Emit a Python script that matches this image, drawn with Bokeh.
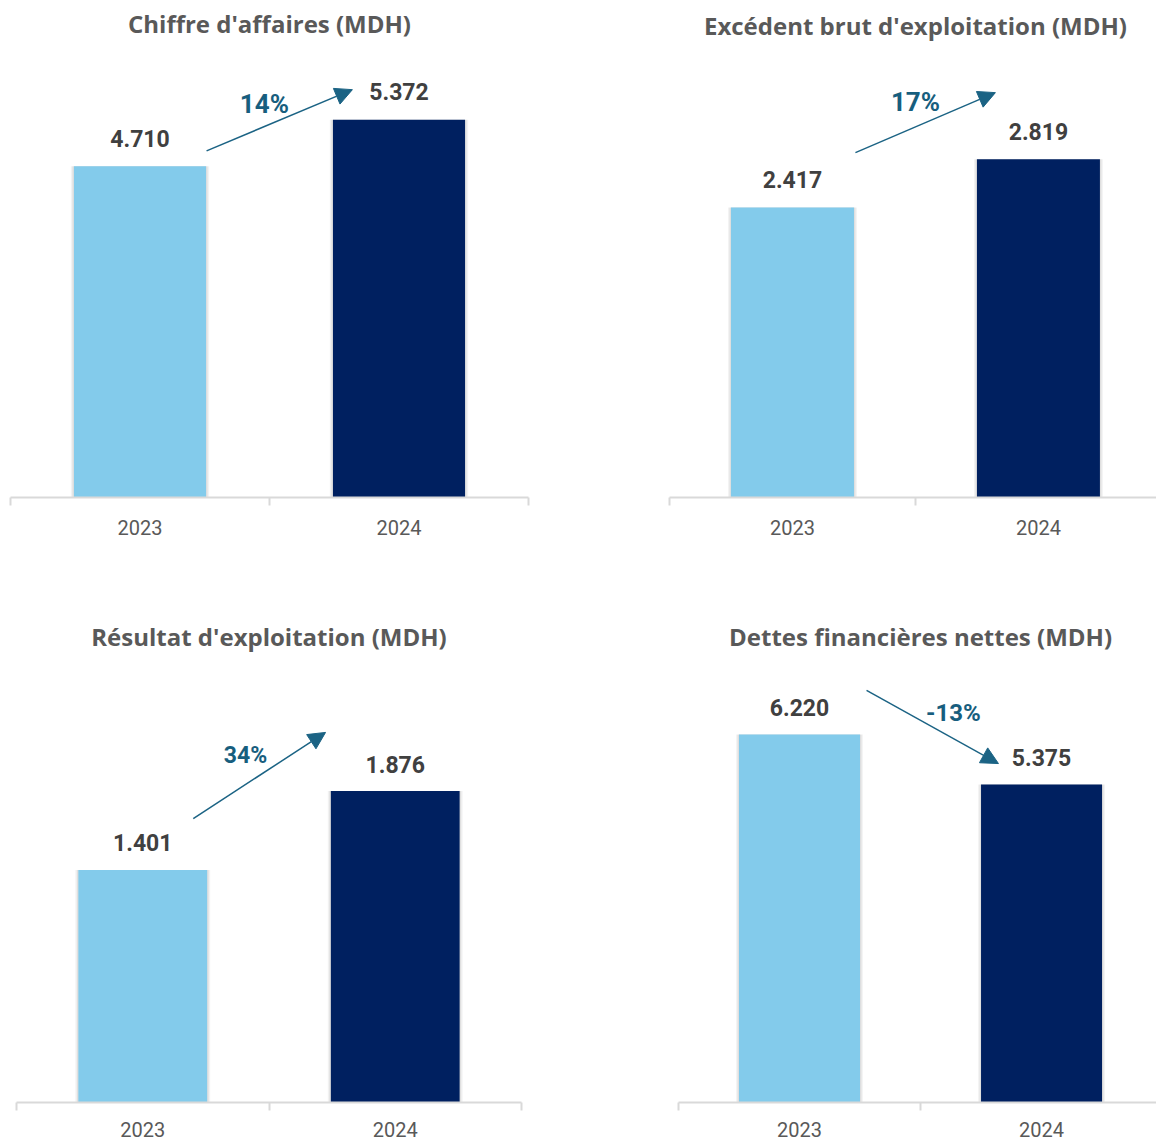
from bokeh.plotting import figure
from bokeh.models import Range1d, LinearAxis, FixedTicker, Arrow, NormalHead, ColumnDataSource
from bokeh.layouts import column, row
from bokeh.core.properties import value
from bokeh.embed import file_html
from bokeh.resources import INLINE

# ---------------- data ----------------
years = ["2023", "2024"]
titles = [
    "Chiffre d'affaires (MDH)",
    "Excédent brut d'exploitation (MDH)",
    "Résultat d'exploitation (MDH)",
    "Dettes financières nettes (MDH)",
]
chiffre_affaires = [4710, 5372]
ebe = [2417, 2819]
resultat_exploitation = [1401, 1876]
dettes_nettes = [6220, 5375]
variations = ["14%", "17%", "34%", "-13%"]
bar_colors = ["#83CBEB", "#002060"]

FONT = "Roboto"
TITLE_FONT = "Open Sans"
ARROW_COLOR = "#1B6384"


def fmt(v):
    return f"{v:,}".replace(",", ".")


def panel(title, vals, var, w, h, bl, br, bb, x_end, y_end, bar_w,
          arrow, var_pos, var_size, label_off, standoff, title_off):
    p = figure(width=w, height=h, x_range=Range1d(0, x_end), y_range=Range1d(0, y_end),
               output_backend="svg", toolbar_location=None,
               x_axis_location=None, y_axis_location=None, title=None,
               min_border_left=bl, min_border_right=br, min_border_top=0, min_border_bottom=bb)
    p.grid.visible = False
    p.outline_line_color = None

    n = len(years)
    xs = [i + 0.5 for i in range(n)]
    # chart title, centred on the category axis, at the top of the panel
    p.text(x=[n / 2], y=[y_end], text=[title], y_offset=title_off, text_align="center",
           text_baseline="middle", text_font=value(TITLE_FONT), text_font_style="bold",
           text_font_size="24px", text_color="#595959")

    src = ColumnDataSource(dict(x=xs, top=vals, color=bar_colors, label=[fmt(v) for v in vals]))
    # soft shadow
    p.vbar(x="x", top="top", width=bar_w + 0.024, fill_color="#000000", fill_alpha=0.05,
           line_color=None, source=src)
    p.vbar(x="x", top="top", width=bar_w + 0.012, fill_color="#000000", fill_alpha=0.08,
           line_color=None, source=src)
    p.vbar(x="x", top="top", width=bar_w, fill_color="color", line_color=None, source=src)
    p.text(x="x", y="top", text="label", y_offset=-label_off, text_align="center",
           text_baseline="middle", text_font=value(FONT), text_font_style="bold",
           text_font_size="23px", text_color="#404040", source=src)

    (x0, y0), (x1, y1) = arrow
    p.add_layout(Arrow(x_start=x0, y_start=y0, x_end=x1, y_end=y1,
                       line_color=ARROW_COLOR, line_width=1.5,
                       end=NormalHead(size=17, fill_color=ARROW_COLOR, line_color=ARROW_COLOR)))
    p.text(x=[var_pos[0]], y=[var_pos[1]], text=[var], text_align="center",
           text_baseline="middle", text_font=value(FONT), text_font_style="bold",
           text_font_size=var_size, text_color="#175E7E")

    axis = LinearAxis(ticker=FixedTicker(ticks=xs, minor_ticks=list(range(n + 1))),
                      major_label_overrides={x: y for x, y in zip(xs, years)})
    axis.axis_line_color = "#D9D9D9"
    axis.axis_line_width = 2
    axis.major_tick_line_color = None
    axis.major_tick_out = 0
    axis.major_tick_in = 0
    axis.minor_tick_line_color = "#D9D9D9"
    axis.minor_tick_line_width = 2
    axis.minor_tick_out = 8
    axis.minor_tick_in = 0
    axis.major_label_standoff = standoff
    axis.major_label_text_font = FONT
    axis.major_label_text_font_size = "20px"
    axis.major_label_text_color = "#595959"
    p.add_layout(axis, "below")
    return p


p1 = panel(titles[0], chiffre_affaires, variations[0], 598, 578, 10, 70, 81, 2.0, 7068, 0.51,
           ((0.757, 4930), (1.32, 5800)), (0.98, 5590), "26px", 28, 14, 23)
p2 = panel(titles[1], ebe, variations[1], 558, 578, 71, 0, 81, 1.98, 4143, 0.50,
           ((0.756, 2875), (1.325, 3375)), (1.0, 3300), "26px", 28, 14, 25)
p3 = panel(titles[2], resultat_exploitation, variations[2], 598, 562, 16, 77, 38, 2.0, 3156, 0.51,
           ((0.70, 1710), (1.224, 2229)), (0.907, 2090), "23px", 27, 11, 58)
p4 = panel(titles[3], dettes_nettes, variations[3], 558, 562, 80, 0, 38, 1.975, 8857, 0.50,
           ((0.777, 6966), (1.322, 5729)), (1.136, 6576), "24px", 27, 11, 58)

layout = column(row(p1, p2), row(p3, p4))
open("out.html", "w").write(file_html(layout, INLINE))
